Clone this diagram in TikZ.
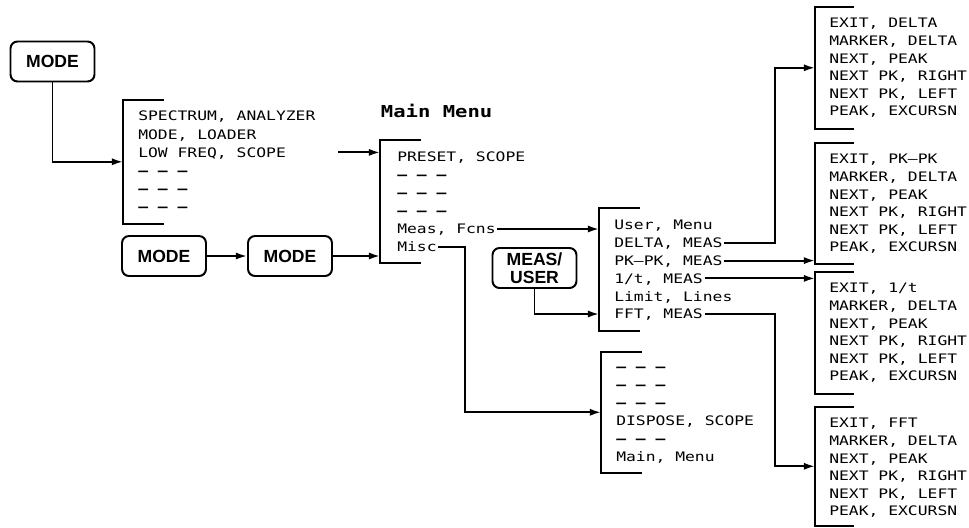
\documentclass[tikz,border=0pt]{standalone}
\usepackage{fontspec}
\setsansfont{Liberation Sans}
\setmonofont[FakeStretch=1.25]{DejaVu Sans Mono}
\usetikzlibrary{arrows.meta,positioning}

% open bracket round a menu
\newcommand{\menuframe}[1]{\draw[frame] (#1.north east) -- (#1.north west) -- (#1.south west) -- (#1.south east);}
% empty menu line
\newcommand{\nokey}{\textbf{– – –}}

\begin{document}
\begin{tikzpicture}[
  x=0.25mm, y=-0.25mm,
  key/.style={draw, line width=1.4pt, rounded corners=5pt, minimum width=21mm,
    minimum height=10mm, inner sep=0pt, align=center,
    font=\sffamily\bfseries\fontsize{12.5}{13}\selectfont},
  menu/.style={anchor=north west, inner sep=0pt, minimum width=10mm, minimum height=#1},
  frame/.style={line width=1.5pt},
  item/.style={anchor=west, inner sep=0pt, text height=2.4mm, text depth=0pt,
    font=\ttfamily\fontsize{9.3}{11}\selectfont},
  arrow/.style={-{Latex[length=2.8mm,width=1.8mm]}, line width=1.4pt}
]
\useasboundingbox (0,0) rectangle (969,527);

% Keys
\node[key] (mode1) at (52.5,61.5) {MODE};
\node[key] (mode2) at (164,256) {MODE};
\node[key] (mode3) at (290,256) {MODE};
\node[key] (mu) at (534.5,268) {MEAS/\\USER};

% Menus
\node[menu=30.75mm] (sel) at (123,100) {};
\node[menu=30.5mm] (main) at (380,140) {};
\node[menu=30.5mm] (meas) at (599,208) {};
\node[menu=30mm] (misc) at (601,352) {};
\node[menu=30.25mm, minimum width=9.5mm] (delta) at (815,7) {};
\node[menu=30mm, minimum width=9.5mm] (pkpk) at (815,143) {};
\node[menu=30.25mm, minimum width=9.5mm] (inv) at (815,272) {};
\node[menu=29.5mm, minimum width=9.5mm] (fft) at (815,407) {};
\foreach \m in {sel,main,meas,misc,delta,pkpk,inv,fft} {\menuframe{\m}}

\node[font=\ttfamily\bfseries\fontsize{11.7}{13}\selectfont, anchor=west] (title) at (376,111) {Main Menu};

% Menu items
\foreach \txt [count=\i] in {{SPECTRUM, ANALYZER},{MODE, LOADER},{LOW FREQ, SCOPE},\nokey,\nokey,\nokey}
  \node[item] (sel\i) at (138,97.8+18.2*\i) {\txt};
\foreach \txt [count=\i] in {{PRESET, SCOPE},\nokey,\nokey,\nokey,{Meas, Fcns},Misc}
  \node[item] (main\i) at (397,139+18*\i) {\txt};
\foreach \txt [count=\i] in {{User, Menu},{DELTA, MEAS},{PK–PK, MEAS},{1/t, MEAS},{Limit, Lines},{FFT, MEAS}}
  \node[item] (meas\i) at (614,207.2+17.8*\i) {\txt};
\foreach \txt [count=\i] in {\nokey,\nokey,\nokey,{DISPOSE, SCOPE},\nokey,{Main, Menu}}
  \node[item] (misc\i) at (616,349+18*\i) {\txt};
\foreach \txt [count=\i] in {{EXIT, DELTA},{MARKER, DELTA},{NEXT, PEAK},{NEXT PK, RIGHT},{NEXT PK, LEFT},{PEAK, EXCURSN}}
  \node[item] (delta\i) at (829,5.4+17.6*\i) {\txt};
\foreach \txt [count=\i] in {{EXIT, PK–PK},{MARKER, DELTA},{NEXT, PEAK},{NEXT PK, RIGHT},{NEXT PK, LEFT},{PEAK, EXCURSN}}
  \node[item] (pkpk\i) at (829,141.4+17.6*\i) {\txt};
\foreach \txt [count=\i] in {{EXIT, 1/t},{MARKER, DELTA},{NEXT, PEAK},{NEXT PK, RIGHT},{NEXT PK, LEFT},{PEAK, EXCURSN}}
  \node[item] (inv\i) at (829,270.4+17.6*\i) {\txt};
\foreach \txt [count=\i] in {{EXIT, FFT},{MARKER, DELTA},{NEXT, PEAK},{NEXT PK, RIGHT},{NEXT PK, LEFT},{PEAK, EXCURSN}}
  \node[item] (fft\i) at (829,405.4+17.6*\i) {\txt};

% Arrows
\coordinate (bus) at (775,0);
\draw[arrow] (mode1.south) |- (sel.west);
\draw[arrow] ([xshift=13mm]sel3.east) -- (sel3.east -| main.west);
\draw[arrow] (mode2) -- (mode3);
\draw[arrow] (mode3) -- (mode3 -| main.west);
\draw[arrow] ([xshift=1pt]main5.east) -- (main5.east -| meas.west);
\draw[arrow] ([xshift=1pt]main6.east) -- ++(27,0) |- (misc.west);
\draw[arrow] (mu.south) |- (meas6 -| meas.west);
\draw[arrow] ([xshift=1pt]meas2.east) -- (meas2.east -| bus) |- (delta.west);
\draw[arrow] ([xshift=1pt]meas3.east) -- (meas3.east -| pkpk.west);
\draw[arrow] ([xshift=1pt]meas4.east) -- (meas4.east -| inv.west);
\draw[arrow] ([xshift=1pt]meas6.east) -- (meas6.east -| bus) |- (fft.west);

\end{tikzpicture}
\end{document}
